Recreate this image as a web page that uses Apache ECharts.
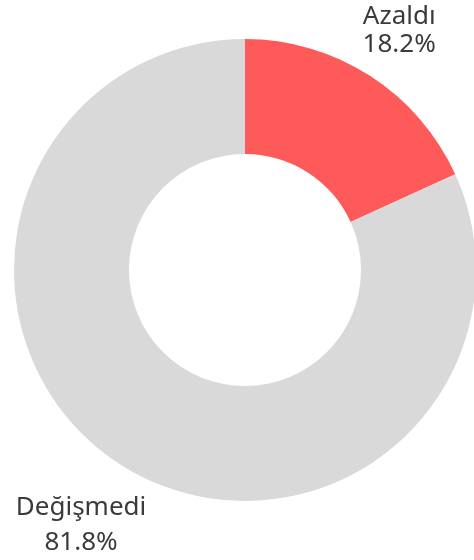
<!DOCTYPE html>
<html>
<head>
<meta charset="utf-8">
<script src="https://cdn.jsdelivr.net/npm/echarts@6/dist/echarts.min.js"></script>
<style>
html,body{margin:0;padding:0;background:#fff;}
#chart{width:474px;height:560px;}
</style>
</head>
<body>
<div id="chart"></div>
<script>
const categories = ['Azaldı', 'Değişmedi'];
const values = [18.2, 81.8];
const colors = ['#ff5a5a', '#d9d9d9'];
const labelOffsets = [54, 72];
const lineHeights = [28, 35];

const chart = echarts.init(document.getElementById('chart'), null, {renderer: 'canvas'});
const data = categories.map((name, i) => ({
  name: name,
  value: values[i],
  itemStyle: {color: colors[i]},
  label: {lineHeight: lineHeights[i]},
  labelLine: {length: labelOffsets[i], length2: 0}
}));

chart.setOption({
  animation: false,
  series: [{
    type: 'pie',
    center: [245, 270],
    radius: [116, 231],
    startAngle: 90,
    clockwise: true,
    avoidLabelOverlap: false,
    data: data,
    label: {
      show: true,
      position: 'outside',
      distanceToLabelLine: 0,
      formatter: p => p.name + '\n' + p.value.toFixed(1) + '%',
      fontFamily: 'Noto Sans',
      fontSize: 26,
      color: '#3a3a3a'
    },
    labelLine: {show: false},
    labelLayout: {align: 'center', verticalAlign: 'middle'},
    emphasis: {disabled: true}
  }]
});
</script>
</body>
</html>
